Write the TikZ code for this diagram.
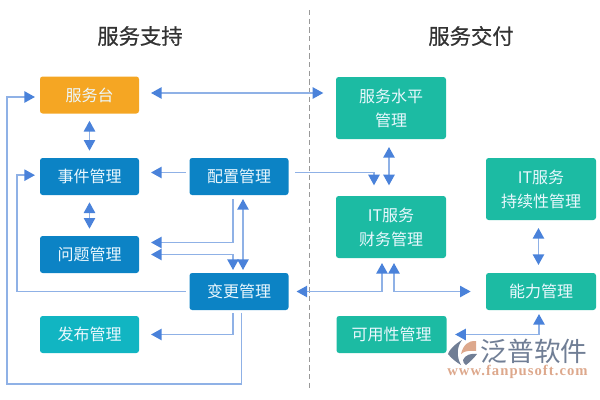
\documentclass[tikz,border=0pt]{standalone}
\usepackage{fontspec}
\setmainfont{Noto Sans CJK SC}
\newfontfamily\wmlat[LetterSpace=7]{Liberation Serif}
\newfontfamily\ttlfont[FakeBold=0.6]{Noto Sans CJK SC}
\usetikzlibrary{arrows.meta}
\definecolor{cOrange}{HTML}{F5A623}
\definecolor{cBlue}{HTML}{0C83C5}
\definecolor{cTeal}{HTML}{1CBBA3}
\definecolor{cCyan}{HTML}{11B5C2}
\definecolor{cLine}{HTML}{8FB1E6}
\definecolor{cTip}{HTML}{4A82DA}
\definecolor{cTitle}{HTML}{333333}
\definecolor{cWm}{HTML}{707E95}
\definecolor{cWmO}{HTML}{DDA88C}
\tikzset{
  box/.style={rounded corners=2pt,inner sep=0pt,outer sep=0pt,text=white!92!cyan,font=\fontsize{12}{18}\selectfont,align=center},
  small/.style={box,minimum width=74.25pt,minimum height=27.75pt},
  large/.style={box,minimum width=82.5pt,minimum height=46.5pt},
  wide/.style={box,minimum width=82.5pt,minimum height=27.75pt},
  title/.style={font=\ttlfont\fontsize{16}{18}\selectfont,text=cTitle},
  conn/.style={draw=cLine,line width=1.2pt},
  one/.style={conn,-{Triangle[length=8pt,width=8.5pt,color=cTip]}},
  both/.style={conn,{Triangle[length=8pt,width=8.5pt,color=cTip]}-{Triangle[length=8pt,width=8.5pt,color=cTip]}},
}
\begin{document}
\begin{tikzpicture}[x=0.75pt,y=-0.75pt]
\useasboundingbox (0,0) rectangle (600,400);
\node[title] (tl) at (140,36) {服务支持};
\node[title] (tr) at (471,36) {服务交付};
\coordinate (dashA) at (309.5,10);
\coordinate (dashB) at (309.5,388);
\draw[color=black!40,line width=0.8pt,dash pattern=on 4pt off 2.5pt] (dashA) -- (dashB);

\node[small,fill=cOrange] (sd) at (89.5,95) {服务台};
\node[small,fill=cBlue] (evt) at (89.5,176.5) {事件管理};
\node[small,fill=cBlue] (cfg) at (239,176.5) {配置管理};
\node[small,fill=cBlue] (prob) at (89.5,254.5) {问题管理};
\node[small,fill=cBlue] (chg) at (239,291.5) {变更管理};
\node[small,fill=cCyan] (rel) at (89.5,334.5) {发布管理};
\node[large,fill=cTeal] (slm) at (391,108) {服务水平\\管理};
\node[large,fill=cTeal] (fin) at (391,227) {IT服务\\财务管理};
\node[large,fill=cTeal] (itc) at (541,189) {IT服务\\持续性管理};
\node[wide,fill=cTeal] (cap) at (541,291.5) {能力管理};
\node[wide,fill=cTeal] (avl) at (391.5,334.5) {可用性管理};

\coordinate (outerBL) at (7,384);
\coordinate (outerTL) at (7,97);
\coordinate (innerL) at (17,291.5);

\draw[both,shorten <=9pt,shorten >=9.5pt] ([yshift=1.5pt]sd.east) -- ([yshift=11.25pt]slm.west);
\draw[one,shorten <=2pt,shorten >=3.75pt] ([xshift=1.9pt]chg.south) |- (outerBL) -- (outerTL) -- ([yshift=-1.5pt]sd.west);
\draw[one,shorten <=3pt,shorten >=3.75pt] (chg.west) -- (innerL) |- ([yshift=1pt]evt.west);
\draw[both,shorten <=5.5pt,shorten >=5.5pt] (sd.south) -- (evt.north);
\draw[both,shorten <=5.5pt,shorten >=5.5pt] (evt.south) -- (prob.north);
\draw[one,shorten <=2.5pt,shorten >=9pt] ([yshift=3pt]cfg.west) -- ([yshift=3pt]evt.east);
\draw[one,shorten <=5pt,shorten >=8pt] ([yshift=3pt]cfg.east) -| ([xshift=-12.75pt]fin.north);
\draw[both,shorten <=6pt,shorten >=8pt] ([xshift=-1.5pt]slm.south) -- ([xshift=-1.5pt]fin.north);
\draw[one,shorten <=3pt,shorten >=9pt] ([xshift=-4.5pt]cfg.south) |- ([yshift=9pt]prob.east);
\draw[both,shorten <=3pt,shorten >=2.25pt] ([xshift=3pt]cfg.south) -- ([xshift=3pt]chg.north);
\draw[both,shorten <=9pt,shorten >=2.25pt] (prob.east) -| ([xshift=-4.5pt]chg.north);
\draw[one,shorten <=2.5pt,shorten >=9pt] ([xshift=-4.5pt]chg.south) |- (rel.east);
\draw[both,shorten <=6pt,shorten >=3.75pt] (chg.east) -| ([xshift=-6.75pt]fin.south);
\draw[both,shorten <=3.75pt,shorten >=11.5pt] ([xshift=2.25pt]fin.south) |- (cap.west);
\draw[both,shorten <=6pt,shorten >=6pt] ([xshift=-1.9pt]itc.south) -- ([xshift=-1.9pt]cap.north);
\draw[both,shorten <=6.5pt,shorten >=3pt] (avl.east) -| ([xshift=-1.5pt]cap.south);

% watermark
\fill[cWm] (462,340) .. controls (455,344) and (449,350) .. (448,354) .. controls (451,358) and (456,362) .. (461,365) .. controls (457,358) and (456,348) .. (462,340) -- cycle;
\fill[cWmO] (476,341) .. controls (469,340) and (463,345) .. (461,354) .. controls (465,350) and (471,351) .. (476,351) -- cycle;
\fill[cWm] (477,354) .. controls (471,353) and (465,355) .. (463,360) .. controls (463,362) and (464,364) .. (466,365) .. controls (470,362) and (474,358) .. (477,354) -- cycle;
\node[inner sep=0pt,text=cWm,font=\fontsize{20}{22}\selectfont] (wmcn) at (534,351) {泛普软件};
\node[inner sep=0pt,text=cWmO,font=\wmlat\bfseries\fontsize{11}{12}\selectfont] (wmen) at (517.5,371.5) {www.fanpusoft.com};
\end{tikzpicture}
\end{document}
